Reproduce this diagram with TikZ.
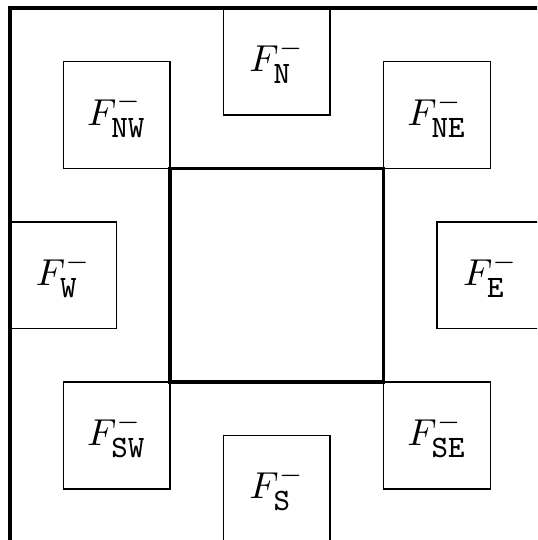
\documentclass[tikz,border=0pt]{standalone}
\newcommand{\subtt}[1]{\mbox{\fontsize{8.3}{10}\selectfont\ttfamily #1}}
\begin{document}
\begin{tikzpicture}[x=1cm,y=1cm,
  cell/.style={draw, line width=0.4pt, minimum size=1cm, inner sep=0pt, font=\fontsize{9.8}{12}\selectfont},
  core/.style={draw, line width=1pt, minimum size=2cm, inner sep=0pt},
  frame/.style={draw, line width=1pt}]
\useasboundingbox (-2.593,-2.48) rectangle (2.438,2.578);
\clip (-2.593,-2.48) rectangle (2.438,2.578);
\draw[frame] (-2.5,-2.5) rectangle (2.5,2.5);
\node[cell] (N)  at (0,2)      {$F^-_{\subtt{N}}$};
\node[cell] (NW) at (-1.5,1.5) {$F^-_{\subtt{NW}}$};
\node[cell] (NE) at (1.5,1.5)  {$F^-_{\subtt{NE}}$};
\node[cell] (W)  at (-2,0)     {$F^-_{\subtt{W}}$};
\node[cell] (E)  at (2,0)      {$F^-_{\subtt{E}}$};
\node[cell] (SW) at (-1.5,-1.5){$F^-_{\subtt{SW}}$};
\node[cell] (SE) at (1.5,-1.5) {$F^-_{\subtt{SE}}$};
\node[cell] (S)  at (0,-2)     {$F^-_{\subtt{S}}$};
\node[core] (C)  at (0,0) {};
\end{tikzpicture}
\end{document}
